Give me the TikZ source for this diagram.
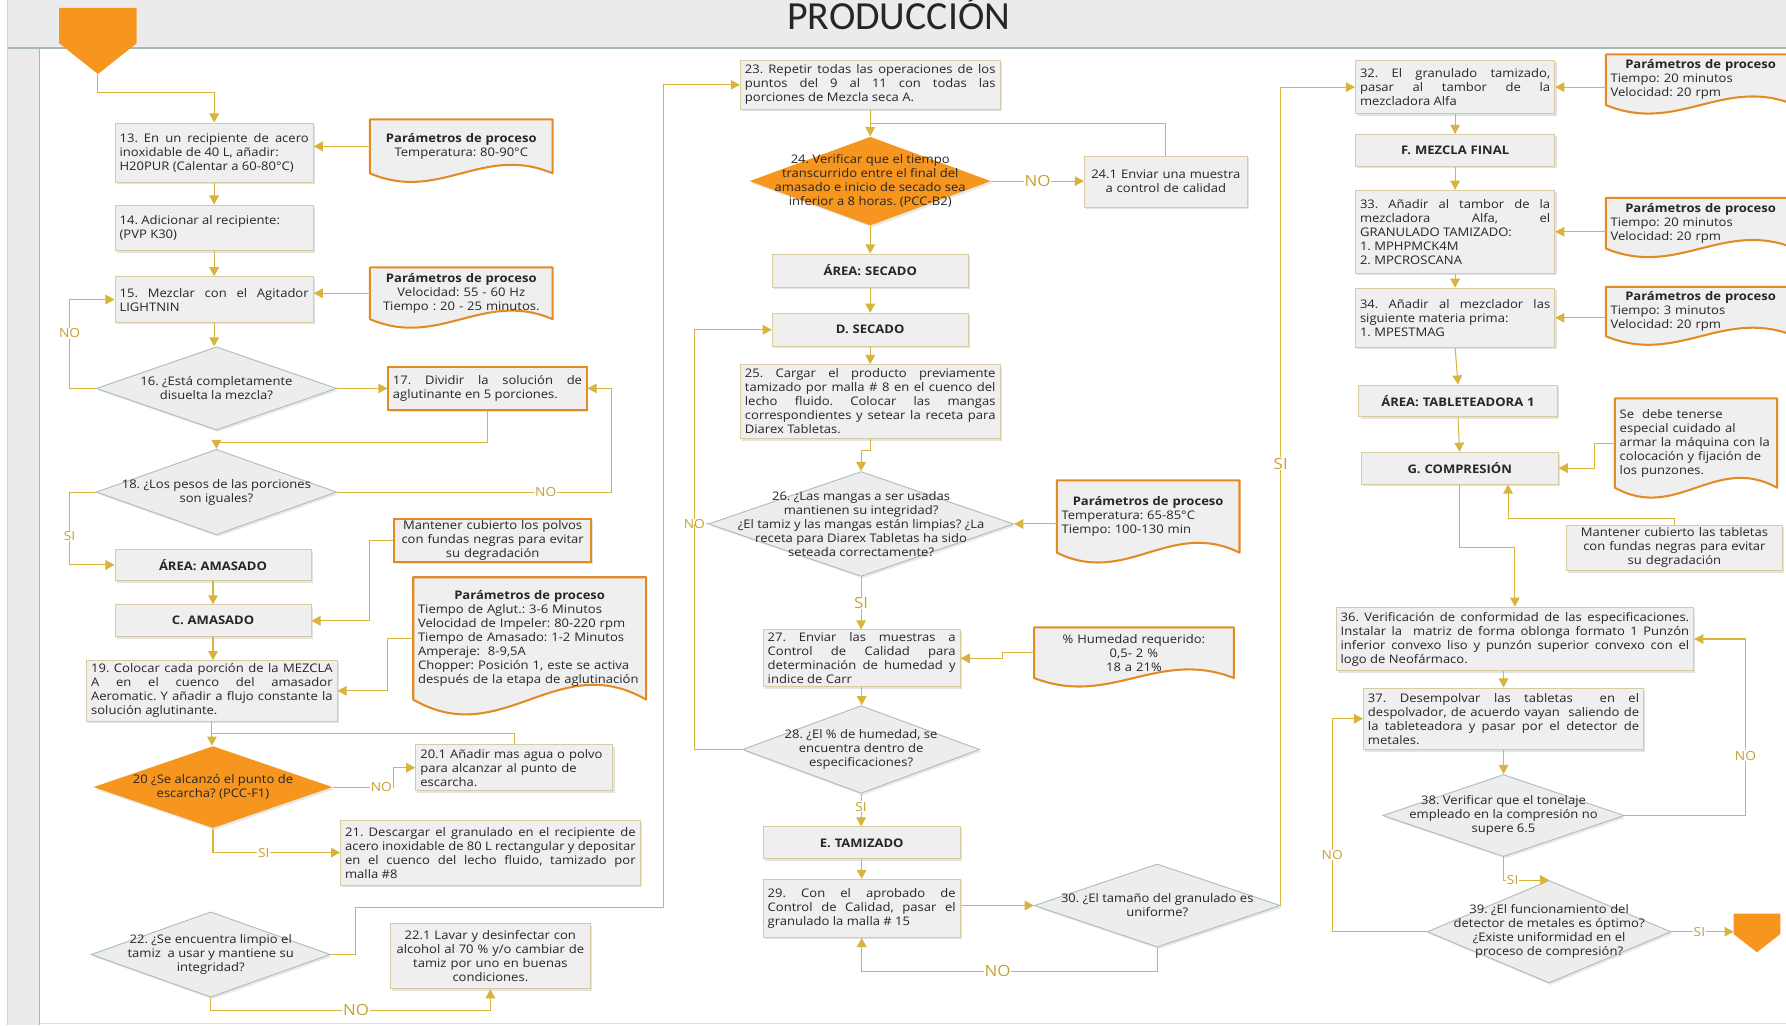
\documentclass[tikz,border=0pt]{standalone}
\usepackage{fontspec}
\setmainfont{Open Sans}[FakeStretch=1.1]
\newfontfamily\titlefont{Carlito}
\usepackage{xcolor}
\usepackage{tikz}
\usetikzlibrary{arrows.meta,shapes.geometric,shadows,calc}
\pgfdeclarelayer{back}
\pgfdeclarelayer{docs}
\pgfsetlayers{back,docs,main}

\definecolor{orfill}{HTML}{F7961E}
\definecolor{orline}{HTML}{E38A22}
\definecolor{flowc}{HTML}{D8B43C}
\definecolor{boxline}{HTML}{D6CCA0}
\definecolor{boxfill}{HTML}{EFEFEF}
\definecolor{diafill}{HTML}{EDEDED}
\definecolor{diaedge}{HTML}{A9BFB5}
\definecolor{lanefill}{HTML}{EBEBEB}
\definecolor{laneline}{HTML}{A7B9B2}
\definecolor{ink}{HTML}{262626}
\definecolor{lblc}{HTML}{C7A232}

\frenchspacing
\newcommand{\fs}{\fontsize{10.4}{12.3}\selectfont\frenchspacing\parindent=0pt\hyphenpenalty=10000\exhyphenpenalty=10000 }
\newcommand{\asktxt}[2]{\raisebox{-2.5pt}[0pt][0pt]{\parbox[c]{#1pt}{\centering #2}}}
\newcommand{\docshape}[2][26]{%
\begin{pgfonlayer}{docs}
\filldraw[docedge] (#2.north west) -- (#2.north east) -- (#2.south east)
  .. controls ($(#2.south west)!0.62!(#2.south east)+(0,#1pt)$) and ($(#2.south west)!0.38!(#2.south east)+(0,-#1pt)$) .. (#2.south west) -- cycle;
\end{pgfonlayer}}

\tikzset{
  sz/.code 2 args={\pgfmathsetmacro\boxtw{#1-8}\edef\szdo{\noexpand\tikzset{minimum width=#1pt,minimum height=#2pt,text width=\boxtw pt}}\szdo},
  proc/.style={draw=boxline, fill=boxfill, line width=0.8pt, inner xsep=4pt, inner ysep=1.5pt, font=\fs, text=ink, align=justify,
    drop shadow={opacity=0.22, shadow xshift=1.5pt, shadow yshift=-1.8pt}},
  areabox/.style={proc, font=\fs\bfseries, align=center},
  orbox/.style={proc, draw=orline, line width=1.8pt},
  ask/.style={diamond, aspect=2.9, draw=diaedge, fill=diafill, line width=0.8pt, inner sep=0pt, font=\fs, text=ink,
    drop shadow={opacity=0.18, shadow xshift=1.5pt, shadow yshift=-1.8pt}},
  askor/.style={ask, draw=none, fill=orfill},
  doc/.style={inner xsep=4pt, inner ysep=1pt, font=\fs, text=ink},
  docedge/.style={draw=orline, fill=boxfill, line width=1.8pt, line join=round},
  flow/.style={draw=flowc, line width=0.9pt, -{Triangle[width=8.5pt,length=8pt]}},
  link/.style={draw=flowc, line width=0.9pt},
  lbl/.style={fill=white, text=lblc, inner sep=0.6pt, font=\fontsize{11}{12}\selectfont},
  lblbig/.style={lbl, font=\fontsize{13.5}{14}\selectfont}
}

\begin{document}
\begin{tikzpicture}[x=1pt,y=-1pt]
\useasboundingbox (0,0) rectangle (1568,900);
\begin{pgfonlayer}{back}
\fill[lanefill] (6,0) rectangle (1568,42);
\fill[lanefill] (6,42) rectangle (35,900);
\draw[laneline,line width=1.3pt] (6,42) -- (1568,42);
\draw[laneline,line width=1pt] (35,42) -- (35,900);
\draw[gray!35] (6,0) -- (6,900);
\draw[gray!25] (35,898) -- (1568,898);
\end{pgfonlayer}
\node[font=\titlefont\fontsize{35}{35}\selectfont, text=ink, anchor=base] (ttl) at (789,26) {PRODUCCIÓN};

\fill[orfill] (52,7) -- (120,7) -- (120,38) -- (86,65) -- (52,38) -- cycle;
\coordinate (st) at (86,65);
\fill[orfill] (1522,802) -- (1563,802) -- (1563,820) -- (1542.5,836) -- (1522,820) -- cycle;
\coordinate (en) at (1522,818);

\node[proc, sz={174}{52}] (b13) at (188,134) {13. En un recipiente de acero\linebreak inoxidable de 40 L, añadir:\\ H20PUR (Calentar a 60-80°C)};
\node[proc, sz={174}{40}] (b14) at (188,200) {14. Adicionar al recipiente:\\ (PVP K30)};
\node[proc, sz={174}{40}] (b15) at (188,263) {15. Mezclar con el Agitador\linebreak LIGHTNIN};
\node[doc, sz={160}{47}, align=center] (pA) at (405,128.5) {\textbf{Parámetros de proceso}\\ Temperatura: 80-90°C};
\docshape{pA}
\node[doc, sz={160}{45}, align=center] (pB) at (405,257.5) {\textbf{Parámetros de proceso}\\ Velocidad: 55 - 60 Hz\\ Tiempo : 20 - 25 minutos.};
\docshape{pB}
\node[ask, minimum width=211pt, minimum height=73pt] (d16) at (190,341) {\asktxt{150}{16. ¿Está completamente\\ disuelta la mezcla?}};
\node[orbox, sz={174}{38}] (b17) at (428,341) {17. Dividir la solución de\linebreak aglutinante en 5 porciones.};
\node[ask, minimum width=211pt, minimum height=75pt] (d18) at (190,432) {\asktxt{175}{18. ¿Los pesos de las porciones\\ son iguales?}};
\node[areabox, sz={172}{28}] (aAm) at (187,496) {ÁREA: AMASADO};
\node[areabox, sz={172}{28}] (cAm) at (187,545) {C. AMASADO};
\node[orbox, sz={173}{37}, align=center, inner ysep=0pt] (nA) at (432.5,474.5) {Mantener cubierto los polvos\\ con fundas negras para evitar\\ su degradación};
\node[proc, sz={220}{53}] (b19) at (186,606.5) {19. Colocar cada porción de la MEZCLA\linebreak A en el cuenco del amasador\linebreak Aeromatic. Y añadir a flujo constante la\linebreak solución aglutinante.};
\node[doc, sz={204}{107}, align=left, inner xsep=3pt] (pC) at (465,560.5) {\makebox[\hsize]{\bfseries Parámetros de proceso}\\ Tiempo de Aglut.: 3-6 Minutos\\ Velocidad de Impeler: 80-220 rpm\\ Tiempo de Amasado: 1-2 Minutos\\ Amperaje: \ 8-9,5A\\ Chopper: Posición 1, este se activa\\ después de la etapa de aglutinación};
\docshape[45]{pC}
\node[askor, minimum width=210pt, minimum height=72pt] (d20) at (187,691) {\asktxt{160}{20 ¿Se alcanzó el punto de\\ escarcha? (PCC-F1)}};
\node[proc, sz={173}{40}, align=left] (b201) at (451.5,674) {20.1 Añadir mas agua o polvo\\ para alcanzar al punto de\\ escarcha.};
\node[proc, sz={263}{57}] (b21) at (430.5,748.5) {21. Descargar el granulado en el recipiente de\linebreak acero inoxidable de 80 L rectangular y depositar\linebreak en el cuenco del lecho fluido, tamizado por\linebreak malla \#8};
\node[ask, minimum width=210pt, minimum height=75pt] (d22) at (185,838) {\asktxt{160}{22. ¿Se encuentra limpio el\\ tamiz \ a usar y mantiene su\\ integridad?}};
\node[proc, sz={175}{57}, align=center] (b221) at (430.5,839.5) {22.1 Lavar y desinfectar con\\ alcohol al 70 \% y/o cambiar de\\ tamiz por uno en buenas\\ condiciones.};

\node[proc, sz={228}{43}] (b23) at (764,74.5) {23. Repetir todas las operaciones de los\linebreak puntos del 9 al 11 con todas las\linebreak porciones de Mezcla seca A.};
\node[askor, minimum width=212pt, minimum height=78pt] (d24) at (764,159) {\asktxt{180}{24. Verificar que el tiempo\\ transcurrido entre el final del\\ amasado e inicio de secado sea\\ inferior a 8 horas. (PCC-B2)}};
\node[proc, sz={143}{45}, align=center] (b241) at (1023.5,159.5) {24.1 Enviar una muestra\\ a control de calidad};
\node[areabox, sz={172}{29}] (aSe) at (764,237.5) {ÁREA: SECADO};
\node[areabox, sz={172}{29}] (dSe) at (764,289.5) {D. SECADO};
\node[proc, sz={228}{65}] (b25) at (764,352.5) {25. Cargar el producto previamente\linebreak tamizado por malla \# 8 en el cuenco del\linebreak lecho fluido. Colocar las mangas\linebreak correspondientes y setear la receta para\linebreak Diarex Tabletas.};
\node[ask, minimum width=268pt, minimum height=92pt] (d26) at (756,460) {\asktxt{235}{26. ¿Las mangas a ser usadas\\ mantienen su integridad?\\ ¿El tamiz y las mangas están limpias? ¿La\\ receta para Diarex Tabletas ha sido\\ seteada correctamente?}};
\node[doc, sz={160}{63}, align=left] (pD) at (1008,453.5) {\makebox[\hsize]{\bfseries Parámetros de proceso}\\ Temperatura: 65-85°C\\ Tiempo: 100-130 min};
\docshape[30]{pD}
\node[proc, sz={173}{50}] (b27) at (756.5,578) {27. Enviar las muestras a\linebreak Control de Calidad para\linebreak determinación de humedad y\linebreak indice de Carr};
\node[doc, sz={175}{44}, align=center] (pE) at (995.5,573) {\% Humedad requerido:\\ 0,5- 2 \%\\ 18 a 21\%};
\docshape{pE}
\node[ask, minimum width=208pt, minimum height=77pt] (d28) at (756,658) {\asktxt{150}{28. ¿El \% de humedad, se\\ encuentra dentro de\\ especificaciones?}};
\node[areabox, sz={173}{28}] (eTa) at (756.5,740) {E. TAMIZADO};
\node[proc, sz={173}{51}] (b29) at (756.5,797.5) {29. Con el aprobado de\linebreak Control de Calidad, pasar el\linebreak granulado la malla \# 15};
\node[ask, minimum width=216pt, minimum height=73pt] (d30) at (1016,795) {\asktxt{180}{30. ¿El tamaño del granulado es\\ uniforme?}};

\node[proc, sz={175}{47}] (b32) at (1277.5,76.5) {32. El granulado tamizado,\linebreak pasar al tambor de la\linebreak mezcladora Alfa};
\node[doc, sz={166}{44}, align=left] (pF1) at (1493,70) {\makebox[\hsize]{\bfseries Parámetros de proceso}\\ Tiempo: 20 minutos\\ Velocidad: 20 rpm};
\docshape{pF1}
\node[areabox, sz={175}{28}] (fMe) at (1277.5,132) {F. MEZCLA FINAL};
\node[proc, sz={175}{73}] (b33) at (1277.5,203.5) {33. Añadir al tambor de la\linebreak mezcladora Alfa, el\linebreak GRANULADO TAMIZADO:\\ 1. MPHPMCK4M\\ 2. MPCROSCANA};
\node[doc, sz={166}{44}, align=left] (pF2) at (1493,196) {\makebox[\hsize]{\bfseries Parámetros de proceso}\\ Tiempo: 20 minutos\\ Velocidad: 20 rpm};
\docshape{pF2}
\node[proc, sz={175}{52}] (b34) at (1277.5,279) {34. Añadir al mezclador las\linebreak siguiente materia prima:\\ 1. MPESTMAG};
\node[doc, sz={166}{43}, align=left] (pF3) at (1493,273.5) {\makebox[\hsize]{\bfseries Parámetros de proceso}\\ Tiempo: 3 minutos\\ Velocidad: 20 rpm};
\docshape{pF3}
\node[areabox, sz={174}{28}] (aTa) at (1280,352) {ÁREA: TABLETEADORA 1};
\node[areabox, sz={173}{28}] (gCo) at (1281.5,411) {G. COMPRESIÓN};
\node[doc, sz={142}{78}, align=left] (nG1) at (1489,389) {Se \ debe tenerse\\ especial cuidado al\\ armar la máquina con la\\ colocación y fijación de\\ los punzones.};
\docshape[30]{nG1}
\node[proc, sz={190}{40}, align=center, inner ysep=0pt] (nG2) at (1470,481) {Mantener cubierto las tabletas\\ con fundas negras para evitar\\ su degradación};
\node[proc, sz={314}{56}] (b36) at (1330,561) {36. Verificación de conformidad de las especificaciones.\linebreak Instalar la \ matriz de forma oblonga formato 1 Punzón\linebreak inferior convexo liso y punzón superior convexo con el\linebreak logo de Neofármaco.};
\node[proc, sz={246}{54}] (b37) at (1320,631) {37. Desempolvar las tabletas \ en el\linebreak despolvador, de acuerdo vayan \ saliendo de\linebreak la tableteadora y pasar por el detector de\linebreak metales.};
\node[ask, minimum width=212pt, minimum height=72pt] (d38) at (1320,716) {\asktxt{175}{38. Verificar que el tonelaje\\ empleado en la compresión no\\ supere 6.5}};
\node[ask, minimum width=214pt, minimum height=90pt] (d39) at (1360,818) {\asktxt{175}{39. ¿El funcionamiento del\\ detector de metales es óptimo?\\ ¿Existe uniformidad en el\\ proceso de compresión?}};

\draw[flow] (st) |- ([yshift=26pt]b13.north) -- (b13.north);
\draw[flow] (pA.west) -- (pA.west -| b13.east);
\draw[flow] (b13) -- (b14);
\draw[flow] (b14) -- (b15);
\draw[flow] (pB.west) -- (pB.west -| b15.east);
\draw[flow] (b15.south) -- (b15.south |- d16.north);
\draw[flow] (d16.west) -- ++(-23,0) |- (b15.west) node[lbl,pos=0.31]{NO};
\draw[flow] (d16.east) -- (d16.east -| b17.west);
\draw[flow] (b17.south) -- ++(0,28) -| (d18.north);
\draw[flow] (d18.east) -- node[lbl,pos=0.76]{NO} ++(241,0) |- (b17.east);
\draw[flow] (d18.west) -- ++(-23,0) |- (aAm.west) node[lbl,pos=0.3]{SI};
\draw[flow] (aAm) -- (cAm);
\draw[flow] (nA.west) -- ++(-21,0) |- (cAm.east);
\draw[flow] (cAm) -- (cAm.south |- b19.north);
\draw[flow] (pC.west) -- ++(-23,0) |- (b19.east);
\draw[flow] (b19.south) -- (b19.south |- d20.north);
\draw[link] (b201.north) |- ($(b19.south)!0.5!(d20.north)$);
\draw[flow] (d20.east) -- node[lbl,pos=0.8]{NO} ++(53,0) |- (b201.west);
\draw[flow] (d20.south) |- (b21.west) node[lbl,pos=0.7]{SI};
\draw[flow] (d22.east) -- ++(22,0) -- ++(0,-41) -- ++(270,0) |- (b23.west);
\draw[flow] (d22.south) -- ++(0,11) -| node[lblbig,pos=0.26]{NO} (b221.south);

\draw[flow] (b23.south) -- (d24.north);
\draw[link] (b241.north) |- ($(b23.south)!0.5!(d24.north)$);
\draw[flow] (d24.east) -- node[lblbig]{NO} (d24.east -| b241.west);
\draw[flow] (d24.south) -- (aSe.north);
\draw[flow] (aSe) -- (dSe);
\draw[flow] (dSe) -- (b25);
\draw[flow] (b25.south) -- ++(0,10) -| (d26.north);
\draw[flow] (pD.west |- d26.east) -- (d26.east);
\draw[flow] (d26.west) -- ++(-12,0) node[lbl]{NO} |- (dSe.west);
\draw[link] (d28.west) -| ([xshift=-12pt]d26.west);
\draw[flow] (d26.south) -- node[lblbig]{SI} (d26.south |- b27.north);
\draw[flow] (pE.west) -- ++(-28,0) |- (b27.east);
\draw[flow] (b27.south) -- (b27.south |- d28.north);
\draw[flow] (d28.south) -- node[lbl,pos=0.39]{SI} (d28.south |- eTa.north);
\draw[flow] (eTa) -- (b29);
\draw[flow] (b29.east |- d30.west) -- (d30.west);
\draw[flow] (d30.south) -- ++(0,21) -| node[lblbig,pos=0.27]{NO} (b29.south);
\draw[flow] (d30.east) |- (b32.west) node[lblbig,pos=0.27]{SI};

\draw[flow] (pF1.west |- b32.east) -- (b32.east);
\draw[flow] (b32) -- (fMe);
\draw[flow] (fMe) -- (b33);
\draw[flow] (pF2.west |- b33.east) -- (b33.east);
\draw[flow] (b33) -- (b34);
\draw[flow] (pF3.west |- b34.east) -- (b34.east);
\draw[flow] (b34.south) -- (aTa.north);
\draw[flow] (aTa.south) -- (gCo.north);
\draw[flow] (nG1.west) -- ++(-18,0) |- (gCo.east);
\draw[flow] (nG2.north) -- ++(0,-5) -| ([xshift=42.5pt]gCo.south);
\draw[flow] (gCo.south) -- ++(0,55) -| (b36.north);
\draw[flow] (b36.south -| b37.north) -- (b37.north);
\draw[flow] (b37.south) -- (d38.north);
\draw[flow] (d38.east) -- ++(106,0) |- (b36.east) node[lbl,pos=0.17]{NO};
\draw[flow] (d38.south) |- (d39.north) node[lbl,pos=0.6]{SI};
\draw[flow] (d39.west) -- ++(-83,0) |- (b37.west) node[lbl,pos=0.18]{NO};
\draw[flow] (d39.east) -- node[lbl,pos=0.45]{SI} (en);
\end{tikzpicture}
\end{document}
